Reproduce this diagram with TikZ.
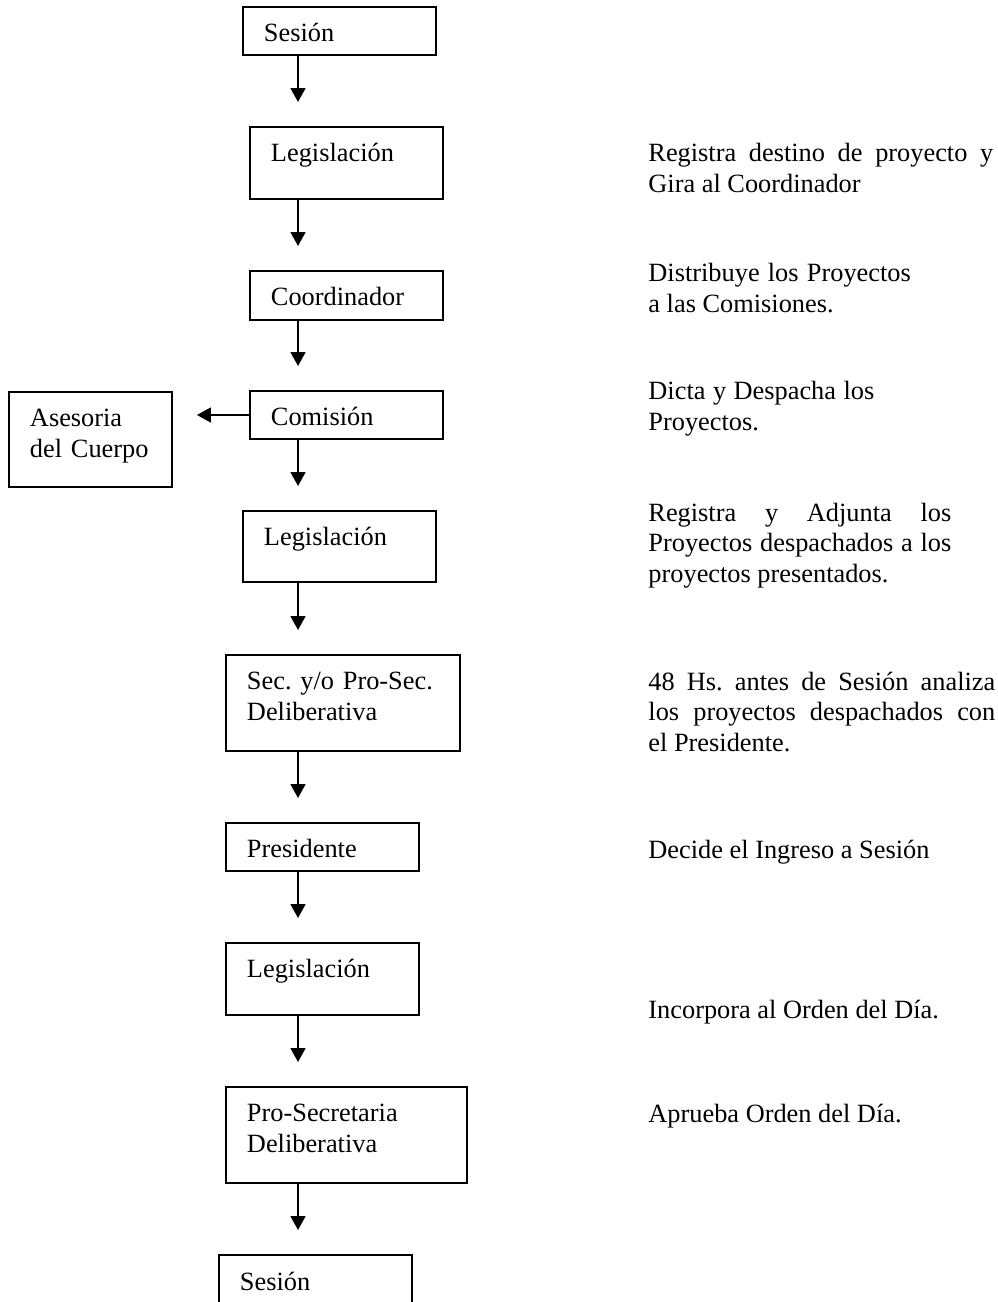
\documentclass[tikz,border=0pt]{standalone}
\usepackage{fontspec}
\setmainfont{Liberation Serif}
\usetikzlibrary{arrows.meta}
\tikzset{
  box/.style={draw, line width=0.75pt, anchor=north west, inner xsep=0.336cm,
    inner ysep=0pt, outer sep=0pt, text width=2.416cm, align=left,
    text height=0.56cm, text depth=0.208cm},
  note/.style={anchor=base west, inner sep=0pt, text width=5.552cm, align=justify},
  flow/.style={line width=0.75pt, -{Triangle[width=0.24cm,length=0.224cm]},
    shorten >=0.4cm}
}
\begin{document}
\begin{tikzpicture}[x=0.016cm, y=-0.016cm, font=\fontsize{12}{14.06}\selectfont\frenchspacing]
\useasboundingbox (0,0) rectangle (998,1302);
\clip (0,0) rectangle (998,1302);
\coordinate (axis) at (298,0);
\node [box] (ses1) at (243,7) {Sesión};
\node [box, text depth=0.592cm] (leg1) at (250,127) {Legislación};
\node [box, text depth=0.224cm] (coord) at (250,271) {Coordinador};
\node [box] (com) at (250,391) {Comisión};
\node [box, text width=1.936cm, text depth=0.96cm] (ases) at (9,392) {Asesoria\\del Cuerpo};
\node [box, text depth=0.576cm] (leg2) at (243,511) {Legislación};
\node [box, text width=3.072cm, text depth=0.976cm] (sec) at (226,655) {Sec. y/o Pro-Sec.\\Deliberativa};
\node [box] (pres) at (226,823) {Presidente};
\node [box, text depth=0.592cm] (leg3) at (226,943) {Legislación};
\node [box, text width=3.184cm, text depth=0.976cm] (pro) at (226,1087) {Pro-Secretaria\\Deliberativa};
\node [box] (ses2) at (219,1255) {Sesión};
\draw [flow] (ses1.south -| axis) -- (leg1.north -| axis);
\draw [flow] (leg1.south -| axis) -- (coord.north -| axis);
\draw [flow] (coord.south -| axis) -- (com.north -| axis);
\draw [flow] (com.west) -- (ases.east |- com.west);
\draw [flow] (com.south -| axis) -- (leg2.north -| axis);
\draw [flow] (leg2.south -| axis) -- (sec.north -| axis);
\draw [flow] (sec.south -| axis) -- (pres.north -| axis);
\draw [flow] (pres.south -| axis) -- (leg3.north -| axis);
\draw [flow] (leg3.south -| axis) -- (pro.north -| axis);
\draw [flow] (pro.south -| axis) -- (ses2.north -| axis);
\node [note, text width=5.52cm] (t1) at (648,162) {Registra destino de proyecto y\linebreak Gira al Coordinador};
\node [note, text width=4.2cm] (t2) at (648,282) {Distribuye los Proyectos\linebreak a las Comisiones.};
\node [note, text width=3.616cm] (t3) at (648,400) {Dicta y Despacha los\linebreak Proyectos.};
\node [note, text width=4.848cm] (t4) at (648,521) {Registra y Adjunta los\linebreak Proyectos despachados a los\linebreak proyectos presentados.};
\node [note] (t5) at (648,690) {48 Hs. antes de Sesión analiza\linebreak los proyectos despachados con\linebreak el Presidente.};
\node [note] (t6) at (648,858) {Decide el Ingreso a Sesión};
\node [note] (t7) at (648,1018) {Incorpora al Orden del Día.};
\node [note] (t8) at (648,1122) {Aprueba Orden del Día.};
\end{tikzpicture}
\end{document}
